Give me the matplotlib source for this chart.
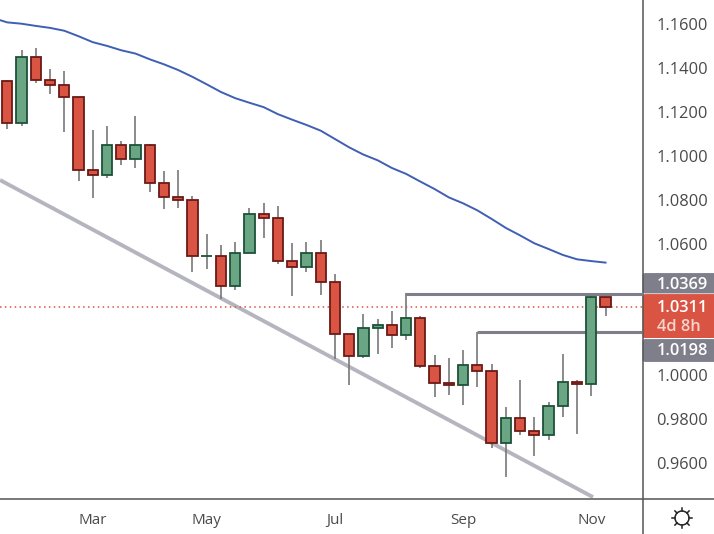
import numpy as np
import matplotlib
matplotlib.use('Agg')
import matplotlib.pyplot as plt
from matplotlib.lines import Line2D
from matplotlib.patches import Circle, FancyBboxPatch, Rectangle
from matplotlib.transforms import IdentityTransform

plt.rcParams['font.family'] = ['Open Sans', 'DejaVu Sans']

# weekly candles
opens = [1.1339, 1.1148, 1.1448, 1.1344, 1.1321, 1.1266, 1.0933, 1.0911, 1.1047, 1.0984,
         1.1047, 1.0874, 1.0810, 1.0797, 1.0542, 1.0542, 1.0405, 1.0555, 1.0733, 1.0715,
         1.0519, 1.0492, 1.0555, 1.0423, 1.0186, 1.0086, 1.0214, 1.0227, 1.0182, 1.0259,
         1.0041, 0.9963, 0.9954, 1.0045, 1.0018, 0.9690, 0.9804, 0.9744, 0.9726, 0.9858,
         0.9968, 0.9959, 1.0355]
highs = [1.1345, 1.1482, 1.1489, 1.1394, 1.1385, 1.1266, 1.1117, 1.1135, 1.1066, 1.1181,
         1.1053, 1.0930, 1.0935, 1.0816, 1.0643, 1.0593, 1.0607, 1.0762, 1.0784, 1.0771,
         1.0602, 1.0607, 1.0616, 1.0461, 1.0186, 1.0279, 1.0256, 1.0293, 1.0373, 1.0270,
         1.0092, 1.0078, 1.0115, 1.0195, 1.0051, 0.9855, 0.9977, 0.9810, 0.9878, 1.0097,
         0.9977, 1.0362, 1.0355]
lows = [1.1120, 1.1137, 1.1330, 1.1280, 1.1107, 1.0886, 1.0806, 1.0900, 1.0959, 1.0945,
        1.0836, 1.0759, 1.0763, 1.0472, 1.0485, 1.0349, 1.0388, 1.0555, 1.0626, 1.0508,
        1.0362, 1.0472, 1.0367, 1.0072, 0.9957, 1.0080, 1.0098, 1.0125, 1.0162, 1.0034,
        0.9902, 0.9911, 0.9866, 0.9948, 0.9670, 0.9538, 0.9729, 0.9633, 0.9706, 0.9811,
        0.9734, 0.9907, 1.0271]
closes = [1.1148, 1.1448, 1.1344, 1.1321, 1.1266, 1.0933, 1.0911, 1.1047, 1.0984, 1.1047,
          1.0874, 1.0810, 1.0797, 1.0542, 1.0542, 1.0405, 1.0555, 1.0733, 1.0715, 1.0519,
          1.0492, 1.0555, 1.0423, 1.0186, 1.0086, 1.0214, 1.0227, 1.0182, 1.0259, 1.0041,
          0.9963, 0.9954, 1.0045, 1.0018, 0.9690, 0.9804, 0.9744, 0.9726, 0.9858, 0.9968,
          0.9959, 1.0355, 1.0309]

# moving average, first value sits one week before the first visible candle
ma_values = [1.1627, 1.1607, 1.1601, 1.1591, 1.1582, 1.1569, 1.1544, 1.1517, 1.1500, 1.1480,
             1.1465, 1.1439, 1.1416, 1.1390, 1.1359, 1.1325, 1.1290, 1.1262, 1.1241, 1.1221,
             1.1189, 1.1164, 1.1140, 1.1114, 1.1076, 1.1038, 1.1005, 1.0979, 1.0944, 1.0917,
             1.0882, 1.0848, 1.0810, 1.0783, 1.0751, 1.0712, 1.0671, 1.0637, 1.0601, 1.0575,
             1.0548, 1.0528, 1.0520, 1.0513]

y_ticks = [1.16, 1.14, 1.12, 1.10, 1.08, 1.06, 1.00, 0.98, 0.96]
month_pos = [6, 14, 23, 32, 41]
month_labels = ['Mar', 'May', 'Jul', 'Sep', 'Nov']

trend_x = [-0.51, 41.12]
trend_y = [1.0889, 0.9445]
level_high = 1.0369
level_high_start = 28
level_low = 1.0195
level_low_start = 33
last_price = 1.0311

RED = '#da5443'
RED_EDGE = '#6b1a16'
GREEN = '#6aa683'
GREEN_EDGE = '#1c5238'
WICK = '#787878'
TAG_GREY = '#7f7f8c'
AXIS = '#555555'
TEXT = '#4a4a4a'

fig = plt.figure(figsize=(7.14, 5.34), dpi=100, facecolor='white')
ax = fig.add_axes([0, 36 / 534, 642 / 714, 498 / 534])
ax.set_xlim(-0.5125, 44.56)
ax.set_ylim(0.9441, 1.1709)

x = np.arange(len(opens))
ax.vlines(x, lows, highs, color=WICK, linewidth=1.2, zorder=2)

# bodies
for i in x:
    up = closes[i] >= opens[i]
    bottom = min(opens[i], closes[i])
    height = abs(closes[i] - opens[i])
    if height == 0:
        ax.hlines(opens[i], i - 0.38, i + 0.38, color=GREEN_EDGE, linewidth=1.3, zorder=3)
        continue
    ax.add_patch(Rectangle((i - 0.36, bottom), 0.72, height,
                           facecolor=GREEN if up else RED,
                           edgecolor=GREEN_EDGE if up else RED_EDGE,
                           linewidth=1.3, zorder=3))

ax.plot(np.arange(-1, len(ma_values) - 1), ma_values, color='#3f5fb5', linewidth=1.4, zorder=4)
ax.plot(trend_x, trend_y, color='#b5b5c0', linewidth=2.8, zorder=1, solid_capstyle='butt')

ax.hlines(level_high, level_high_start - 0.05, 44.56, color=TAG_GREY, linewidth=2.2, zorder=2.5)
ax.hlines(level_low, level_low_start - 0.05, 44.56, color=TAG_GREY, linewidth=2.2, zorder=2.5)
ax.axhline(last_price, color=RED, linewidth=1.1, linestyle=(0, (1, 2.2)), zorder=1.5)

ax.yaxis.tick_right()
ax.set_yticks(y_ticks)
ax.set_yticklabels(['%.4f' % v for v in y_ticks], fontsize=11.8, color=TEXT)
ax.set_xticks(month_pos)
ax.set_xticklabels(month_labels, fontsize=11, color=TEXT)
ax.tick_params(axis='both', length=0)
ax.tick_params(axis='y', pad=10.5)
ax.tick_params(axis='x', pad=11)
for side in ax.spines:
    ax.spines[side].set_visible(False)

# axis frame, in pixels
px = IdentityTransform()
fig.add_artist(Line2D([642.5, 642.5], [0, 534], color=AXIS, linewidth=1.1, transform=px))
fig.add_artist(Line2D([0, 714], [35.5, 35.5], color=AXIS, linewidth=1.1, transform=px))

# price tags on the axis
def tag(top, bottom, color):
    y0 = 534 - bottom
    fig.add_artist(FancyBboxPatch((645, y0 + 2), 72, bottom - top - 4,
                                  boxstyle='round,pad=0,rounding_size=0', mutation_aspect=1,
                                  facecolor=color, edgecolor=color, linewidth=3.5,
                                  joinstyle='round', transform=px))

tag(273.5, 293, TAG_GREY)
tag(294.5, 337.5, RED)
tag(339.5, 361.5, TAG_GREY)
fig.add_artist(Rectangle((643, 534 - 337.5), 71, 43, facecolor=RED, edgecolor='none', transform=px))

for label, ypos, col in [('1.0369', 285, 'white'), ('1.0311', 308, 'white'),
                         ('4d 8h', 327, '#f6d5ce'), ('1.0198', 351, 'white')]:
    fig.text(657 / 714, 1 - ypos / 534, label, color=col, fontsize=11.8, fontweight='semibold',
             ha='left', va='center')

# sun icon, bottom right corner
cx, cy = 682, 534 - 518
fig.add_artist(Circle((cx, cy), 7, facecolor='none', edgecolor='#222222', linewidth=1.1, transform=px))
for a in np.arange(8) * np.pi / 4:
    fig.add_artist(Line2D([cx + 7 * np.cos(a), cx + 10 * np.cos(a)],
                          [cy + 7 * np.sin(a), cy + 10 * np.sin(a)],
                          color='#222222', linewidth=1.1, transform=px))

fig.savefig('out.png', dpi=100)
